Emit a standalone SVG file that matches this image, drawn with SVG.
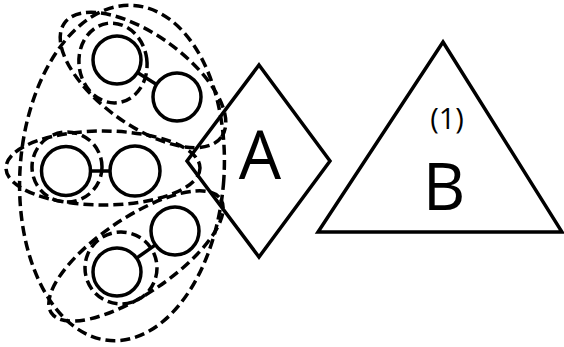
<svg xmlns="http://www.w3.org/2000/svg" width="564" height="347" viewBox="0 0 564 347">
  <style>
    .node { fill: none; stroke: #000; stroke-width: 3.5; }
    .group { fill: none; stroke: #000; stroke-width: 3.5; stroke-dasharray: 10 5; }
    .edge { fill: none; stroke: #000; stroke-width: 3.5; }
    .label { font-family: "Open Sans", "Liberation Sans", sans-serif; fill: #000; text-anchor: middle; }
  </style>
  <rect width="564" height="347" fill="#fff"/>

  <!-- outer cluster boundary -->
  <g id="cluster-outer">
    <ellipse class="group" cx="122" cy="173" rx="102" ry="168" transform="rotate(4 122 173)"/>
  </g>

  <!-- top pair -->
  <g id="pair-top">
    <ellipse class="group" cx="143" cy="80" rx="97" ry="45" transform="rotate(36 143 80)"/>
    <ellipse class="group" cx="113" cy="63" rx="34" ry="40" transform="rotate(-8 113 63)"/>
  </g>
  <g id="n-top-1"><circle class="node" cx="117" cy="60" r="24"/></g>
  <g id="n-top-2"><circle class="node" cx="177" cy="97" r="24"/></g>

  <!-- middle pair -->
  <g id="pair-mid">
    <ellipse class="group" cx="103" cy="168" rx="97" ry="37"/>
    <circle class="group" cx="67" cy="167" r="35"/>
  </g>
  <g id="n-mid-1"><circle class="node" cx="66" cy="171" r="24.5"/></g>
  <g id="n-mid-2"><circle class="node" cx="135" cy="171" r="25"/></g>

  <!-- bottom pair -->
  <g id="pair-bottom">
    <ellipse class="group" cx="136" cy="256" rx="102" ry="38" transform="rotate(-34 136 256)"/>
    <circle class="group" cx="121" cy="268" r="36"/>
  </g>
  <g id="n-bot-1"><circle class="node" cx="117" cy="272" r="24"/></g>
  <g id="n-bot-2"><circle class="node" cx="175" cy="231" r="24"/></g>

  <!-- links between paired circles -->
  <g id="connectors">
    <line class="edge" x1="137.4" y1="72.6" x2="156.6" y2="84.4"/>
    <line class="edge" x1="90.5" y1="171" x2="110" y2="171"/>
    <line class="edge" x1="136.6" y1="258.1" x2="155.4" y2="244.9"/>
  </g>

  <!-- diamond A -->
  <g id="node-A">
    <polygon class="node" points="259,65 330,161 259,257 187,161"/>
    <text class="label" x="260" y="179" font-size="67">A</text>
  </g>

  <!-- triangle B -->
  <g id="node-B">
    <polygon class="node" points="443,42 562,232 318,232"/>
    <text class="label" x="447" y="129" font-size="29">(1)</text>
    <text class="label" x="444" y="210" font-size="66">B</text>
  </g>
</svg>
